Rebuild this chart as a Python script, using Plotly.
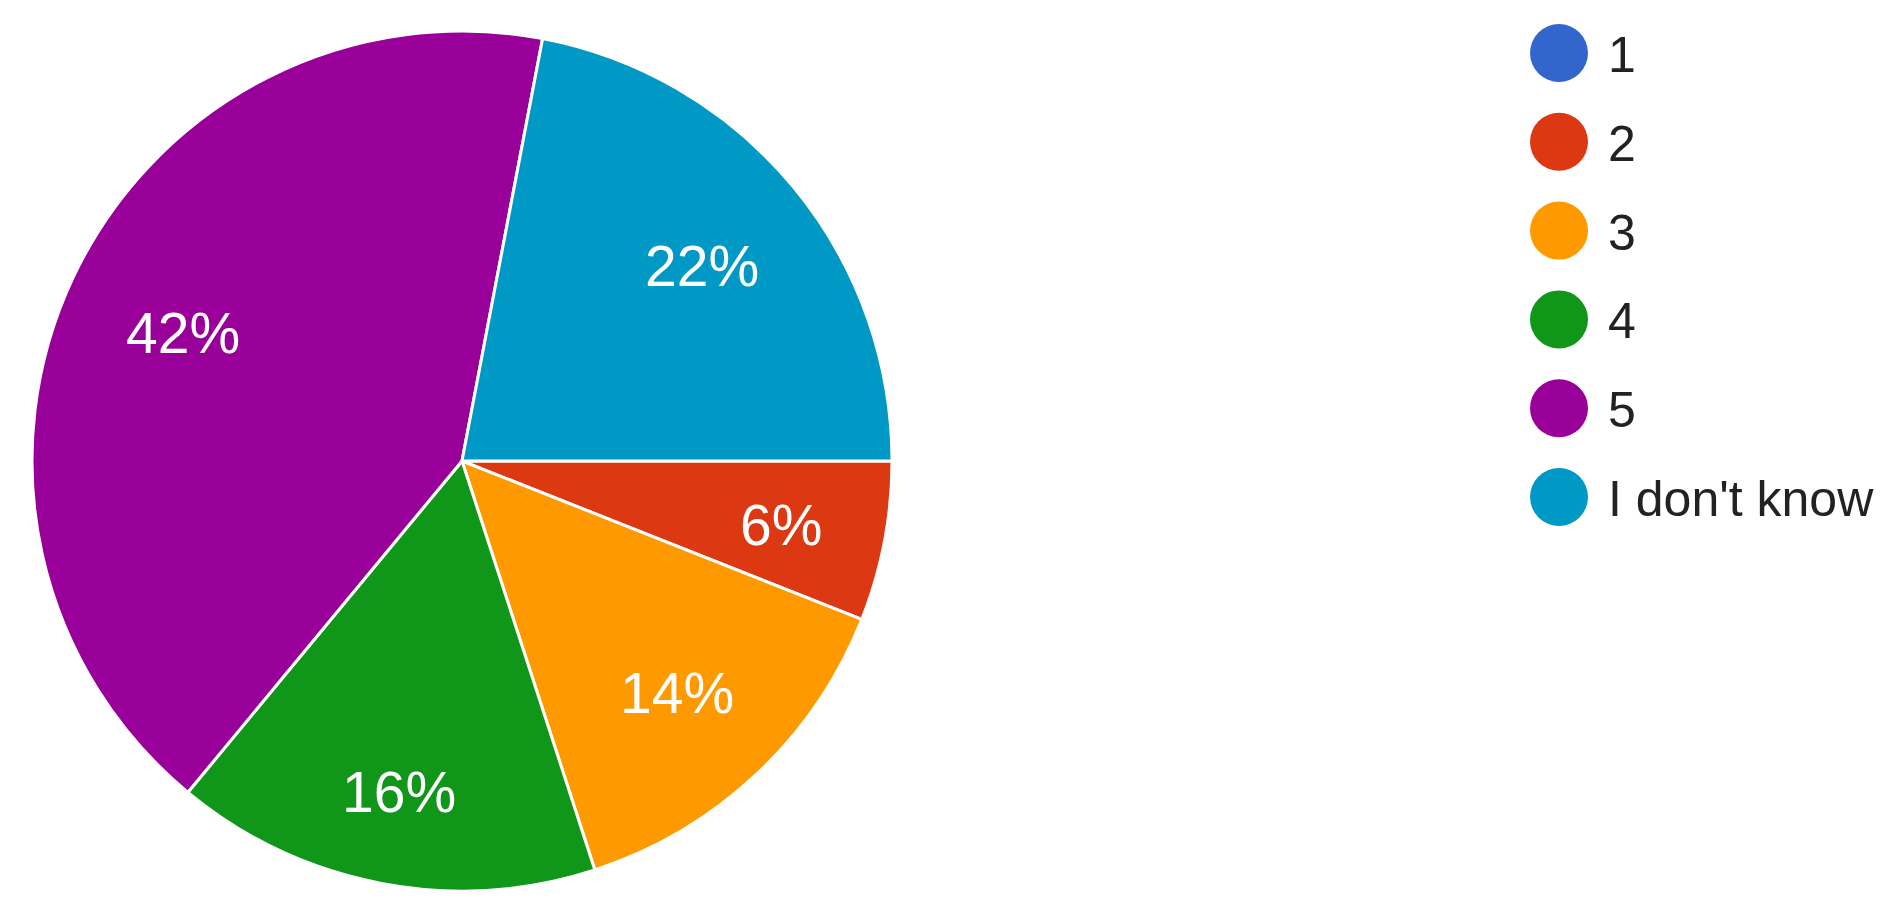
import math
import plotly.graph_objects as go

labels = ["1", "2", "3", "4", "5", "I don't know"]
counts = [0, 3, 7, 8, 21, 11]
colors = ["#3366cc", "#dc3912", "#ff9900", "#109618", "#990099", "#0099c6"]

OFF = 8                      # default page body margin
W, H = 1899 - 2 * OFF, 913 - 2 * OFF
cx, cy, r = 462 - OFF, 461 - OFF, 430
FONT = "Liberation Sans, Arial, sans-serif"
LBL_SIZE = 57

fig = go.Figure()
fig.add_trace(go.Pie(
    labels=labels, values=counts, sort=False, direction="clockwise", rotation=90,
    marker=dict(colors=colors, line=dict(color="white", width=3)),
    textinfo="none", showlegend=False, hoverinfo="label+percent",
    domain=dict(x=[(cx - r) / W, (cx + r) / W], y=[(H - cy - r) / H, (H - cy + r) / H]),
))

annotations = []
shapes = []

# percentage labels placed Google-Charts style: text box far corner at fixed radius
total = sum(counts)
cum = 0.0
charw = {"%": 0.889}
R0 = 0.86 * r
for v in counts:
    frac = v / total
    if v > 0:
        phi = 2 * math.pi * (cum + frac / 2)   # clockwise from 3 o'clock
        ux, uy = math.cos(phi), math.sin(phi)   # screen coords (y down)
        txt = f"{round(frac * 100)}%"
        hw = sum(charw.get(ch, 0.556) for ch in txt) * LBL_SIZE / 2
        hh = 22
        c = (math.copysign(hw, ux), math.copysign(hh, uy))
        uc = ux * c[0] + uy * c[1]
        t = -uc + math.sqrt(uc * uc - (c[0] ** 2 + c[1] ** 2) + R0 * R0)
        px, py = cx + t * ux, cy + t * uy + 3
        annotations.append(dict(x=px / W, y=1 - py / H, xref="paper", yref="paper",
                                text=txt, showarrow=False, xanchor="center", yanchor="middle",
                                font=dict(family=FONT, size=LBL_SIZE, color="white")))
    cum += frac

# custom legend with large circles
leg_x = 1559 - OFF
leg_y0 = 53 - OFF
leg_dy = 88.8
for i, (lab, col) in enumerate(zip(labels, colors)):
    yc = leg_y0 + i * leg_dy
    shapes.append(dict(type="circle", xref="paper", yref="paper",
                       xsizemode="pixel", ysizemode="pixel",
                       xanchor=leg_x / W, yanchor=1 - yc / H,
                       x0=-29, x1=29, y0=-29, y1=29,
                       fillcolor=col, line=dict(width=0)))
    annotations.append(dict(x=(1606 - OFF) / W, y=1 - (yc + 2) / H, xref="paper", yref="paper",
                            text=lab, showarrow=False, xanchor="left", yanchor="middle",
                            font=dict(family=FONT, size=50, color="#222222")))

fig.update_layout(
    width=W, height=H, margin=dict(l=0, r=0, t=0, b=0),
    paper_bgcolor="white", plot_bgcolor="white",
    shapes=shapes, annotations=annotations,
)
fig.write_html("out.html")
